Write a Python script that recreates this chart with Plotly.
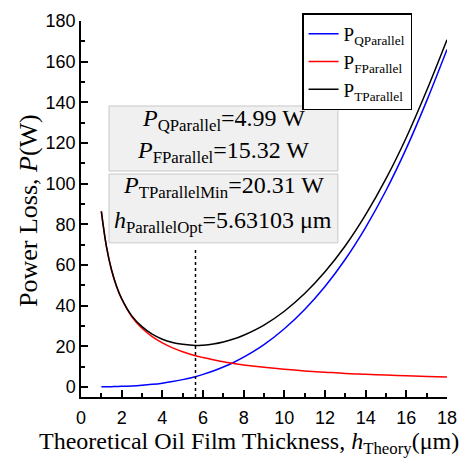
import plotly.graph_objects as go

# Film thickness (um) and the three power-loss components (W)
h_theory = [1.0, 1.25, 1.5, 1.75, 2.0, 2.5, 3.0, 3.5, 4.0, 4.5, 5.0, 5.63, 6.0, 6.5,
            7.0, 7.5, 8.0, 9.0, 10.0, 11.0, 12.0, 13.0, 14.0, 15.0, 16.0, 17.0, 18.0]
p_q = [0.03, 0.06, 0.10, 0.15, 0.23, 0.44, 0.77, 1.22, 1.82, 2.59, 3.55, 4.99, 6.12, 7.80,
       9.75, 12.0, 14.6, 20.8, 28.6, 38.1, 49.4, 62.8, 78.5, 96.6, 117.3, 140.7, 166.0]
p_f = [86.3, 69.0, 57.5, 49.3, 43.2, 34.5, 28.8, 24.7, 21.6, 19.2, 17.3, 15.32, 14.4, 13.3,
       12.3, 11.5, 10.8, 9.6, 8.6, 7.8, 7.2, 6.6, 6.2, 5.8, 5.4, 5.1, 4.8]
p_t = [86.3, 69.1, 57.6, 49.5, 43.4, 34.9, 29.6, 25.9, 23.4, 21.8, 20.9, 20.31, 20.5, 21.1,
       22.1, 23.5, 25.4, 30.4, 37.2, 45.9, 56.6, 69.4, 84.7, 102.4, 122.7, 145.8, 170.8]

h_opt = 5.63103
p_q_opt = 4.99
p_f_opt = 15.32
p_t_min = 20.31

x_ticks = [0, 2, 4, 6, 8, 10, 12, 14, 16, 18]
y_ticks = [0, 20, 40, 60, 80, 100, 120, 140, 160, 180]

SERIF = "Liberation Serif"
SANS = "Liberation Sans"

fig = go.Figure()
fig.add_trace(go.Scatter(x=h_theory, y=p_q, mode="lines", line=dict(color="#0000ff", width=1.5, shape="spline"),
                         name="P<sub>QParallel</sub>"))
fig.add_trace(go.Scatter(x=h_theory, y=p_f, mode="lines", line=dict(color="#ff0000", width=1.5, shape="spline"),
                         name="P<sub>FParallel</sub>"))
fig.add_trace(go.Scatter(x=h_theory, y=p_t, mode="lines", line=dict(color="#000000", width=1.5, shape="spline"),
                         name="P<sub>TParallel</sub>"))
# optimum film thickness marker
fig.add_trace(go.Scatter(x=[h_opt, h_opt], y=[-5, 68], mode="lines",
                         line=dict(color="black", width=1.5, dash="dot"), showlegend=False, hoverinfo="skip"))

box_style = dict(type="rect", xref="paper", yref="paper", fillcolor="#f0f0f0",
                 line=dict(color="#c8c8c8", width=1), layer="above")
fig.add_shape(x0=0.0765, x1=0.702, y0=0.601, y1=0.774, **box_style)
fig.add_shape(x0=0.0765, x1=0.702, y0=0.410, y1=0.593, **box_style)

rows = [
    (0.737, f"<i>P</i><sub>QParallel</sub>={p_q_opt:.2f} W"),
    (0.652, f"<i>P</i><sub>FParallel</sub>={p_f_opt:.2f} W"),
    (0.559, f"<i>P</i><sub>TParallelMin</sub>={p_t_min:.2f} W"),
    (0.465, f"<i>h</i><sub>ParallelOpt</sub>={h_opt:.5f} μm"),
]
for yy, txt in rows:
    fig.add_annotation(x=0.389, y=yy, xref="paper", yref="paper", text=txt, showarrow=False,
                       xanchor="center", yanchor="middle", font=dict(family=SERIF, size=24, color="black"))

# axis titles
fig.add_annotation(x=0.459, y=-0.122, xref="paper", yref="paper", showarrow=False,
                   xanchor="center", yanchor="middle",
                   text="Theoretical Oil Film Thickness, <i>h</i><sub>Theory</sub>(μm)",
                   font=dict(family=SERIF, size=24, color="black"))
fig.add_annotation(x=-0.145, y=0.497, xref="paper", yref="paper", showarrow=False,
                   xanchor="center", yanchor="middle", textangle=-90,
                   text="Power Loss, <i>P</i>(W)",
                   font=dict(family=SERIF, size=26, color="black"))

axis_common = dict(showline=True, linecolor="black", linewidth=1.5, ticks="inside", ticklen=7, tickwidth=1.5,
                   tickcolor="black", showgrid=False, zeroline=False, mirror=False,
                   tickfont=dict(family=SANS, size=18, color="black"))

fig.update_xaxes(range=[0, 18], tickvals=x_ticks, ticklabelstandoff=4,
                 minor=dict(dtick=1, ticks="inside", ticklen=4, tickwidth=1.5, tickcolor="black"),
                 **axis_common)
fig.update_yaxes(range=[-5, 180], tickvals=y_ticks,
                 minor=dict(dtick=10, tick0=0, ticks="inside", ticklen=4, tickwidth=1.5, tickcolor="black"),
                 **axis_common)

fig.update_layout(
    width=470, height=459,
    margin=dict(l=81, r=23, t=21, b=62),
    paper_bgcolor="white", plot_bgcolor="white",
    legend=dict(x=0.604, y=1.02, xanchor="left", yanchor="top", bgcolor="white",
                bordercolor="black", borderwidth=1.5, font=dict(family=SERIF, size=19, color="black"),
                tracegroupgap=0),
)

fig.write_html("out.html")
